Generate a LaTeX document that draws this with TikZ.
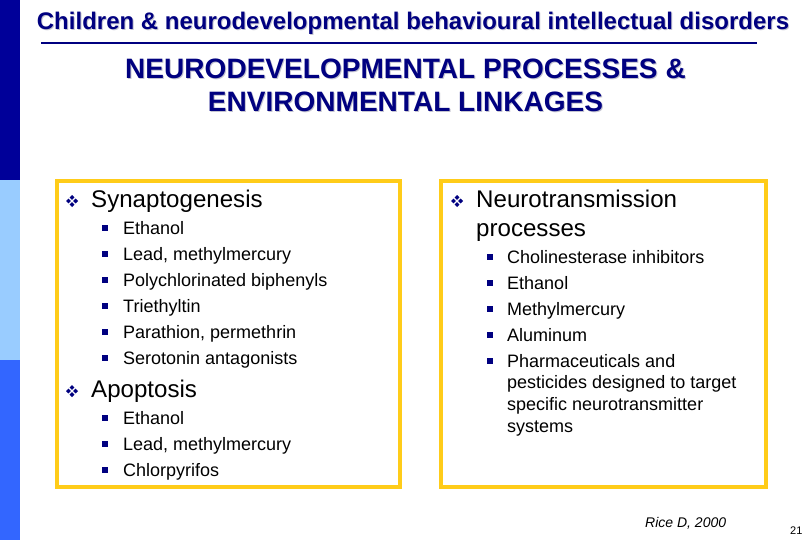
\documentclass[tikz,border=0pt]{standalone}
\usepackage{fontspec}
\setmainfont{Liberation Sans}
\definecolor{navy}{HTML}{000099}
\definecolor{textnavy}{HTML}{000080}
\definecolor{lightband}{HTML}{99CCFF}
\definecolor{midband}{HTML}{3366FF}
\definecolor{framegold}{HTML}{FFCC19}
\definecolor{shadowgray}{HTML}{C4C4D0}
\tikzset{
  x=1pt,y=-1pt,
  head/.style={inner sep=0,anchor=base,text=textnavy,font=\bfseries\fontsize{24}{28}\selectfont},
  headshadow/.style={inner sep=0,anchor=base,text=shadowgray,font=\bfseries\fontsize{24}{28}\selectfont},
  title/.style={inner sep=0,anchor=base,text=textnavy,font=\bfseries\fontsize{28.05}{33}\selectfont},
  titleshadow/.style={inner sep=0,anchor=base,text=shadowgray,font=\bfseries\fontsize{28.05}{33}\selectfont},
  lvlone/.style={inner sep=0,anchor=base west,text=black,font=\fontsize{24.1}{28}\selectfont},
  lvltwo/.style={inner sep=0,anchor=base west,text=black,font=\fontsize{18}{21}\selectfont},
  lvlthree/.style={inner sep=0,anchor=base west,text=black,font=\fontsize{18}{21}\selectfont},
  credit/.style={inner sep=0,anchor=base west,text=black,font=\itshape\fontsize{14}{17}\selectfont},
  pagenum/.style={inner sep=0,anchor=base west,text=black,font=\fontsize{11}{13}\selectfont},
  goldframe/.style={draw=framegold,line width=4.5pt,fill=white},
  sq/.style={fill=textnavy,draw=none},
  dm/.style={fill=textnavy,draw=none}
}
\newcommand{\sqbullet}[2]{\fill[sq] (#1-3.3,#2-3.3) rectangle (#1+3.3,#2+3.3);}
\newcommand{\dmone}[2]{\fill[dm] (#1-2.4,#2) -- (#1,#2-2.4) -- (#1+2.4,#2) -- (#1,#2+2.4) -- cycle;}
\newcommand{\dmbullet}[2]{\dmone{#1-3.6}{#2}\dmone{#1+3.6}{#2}\dmone{#1}{#2-3.6}\dmone{#1}{#2+3.6}}
\begin{document}
\begin{tikzpicture}
\useasboundingbox (0,0) rectangle (810,540);
\fill[white] (0,0) rectangle (810,540);
\fill[navy] (0,0) rectangle (20,180);
\fill[lightband] (0,180) rectangle (20,360);
\fill[midband] (0,360) rectangle (20,540);

\node[headshadow] (h0) at (414,31) {Children \& neurodevelopmental behavioural intellectual disorders};
\node[head] (h1) at (413,30) {Children \& neurodevelopmental behavioural intellectual disorders};
\draw[textnavy,line width=2pt] (41,43.3) -- (757,43.3);

\node[titleshadow] (t0a) at (406.5,80) {NEURODEVELOPMENTAL PROCESSES \&};
\node[title] (t1a) at (405.5,79) {NEURODEVELOPMENTAL PROCESSES \&};
\node[titleshadow] (t0b) at (406.5,113) {ENVIRONMENTAL LINKAGES};
\node[title] (t1b) at (405.5,112) {ENVIRONMENTAL LINKAGES};

\draw[goldframe] (57,181) rectangle (400,487);
\draw[goldframe] (441,181) rectangle (766,487);

\dmbullet{72}{201}
\node[lvlone] (a) at (91,207) {Synaptogenesis};
\foreach \y/\t [count=\i] in {234/Ethanol,260/{Lead, methylmercury},286/Polychlorinated biphenyls,312/Triethyltin,338/{Parathion, permethrin},364/Serotonin antagonists}{
  \sqbullet{105}{\y-6}
  \node[lvltwo] (a\i) at (123,\y) {\t};
}
\dmbullet{72}{391}
\node[lvlone] (b) at (91,397) {Apoptosis};
\foreach \y/\t [count=\i] in {424/Ethanol,450/{Lead, methylmercury},476/Chlorpyrifos}{
  \sqbullet{105}{\y-6}
  \node[lvltwo] (b\i) at (123,\y) {\t};
}

\dmbullet{457}{201}
\node[lvlone] (c) at (476,207) {Neurotransmission};
\node[lvlone] (c0) at (476,236) {processes};
\foreach \y/\t [count=\i] in {263/Cholinesterase inhibitors,289/Ethanol,315/Methylmercury,341/Aluminum,367/Pharmaceuticals and}{
  \sqbullet{490}{\y-6}
  \node[lvltwo] (c\i) at (507,\y) {\t};
}
\node[lvlthree] (c6) at (507,388) {pesticides designed to target};
\node[lvlthree] (c7) at (507,410) {specific neurotransmitter};
\node[lvlthree] (c8) at (507,432) {systems};

\node[credit] (r) at (645,527) {Rice D, 2000};
\node[pagenum] (n) at (790,534) {21};
\end{tikzpicture}
\end{document}
